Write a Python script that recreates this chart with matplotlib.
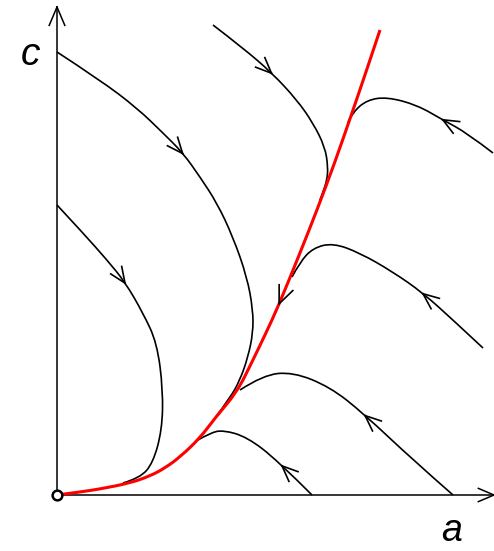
import numpy as np
import matplotlib
matplotlib.use("Agg")
import matplotlib.pyplot as plt
from matplotlib.path import Path
from matplotlib.patches import PathPatch

# Phase portrait in the (a, c) plane, units
red_a = [0, 23, 43, 73, 93, 108, 123, 143, 158, 180, 195, 208, 221, 243, 260, 278, 295, 309, 323]
red_c = [0, 3, 6, 12, 19, 27, 38, 57, 77, 103, 133, 160, 188, 242, 285, 333, 382, 423, 465]

curve1_a = [0, 43, 80, 106, 126, 143, 160, 176, 190, 196, 196, 191, 183, 173, 158]
curve1_c = [443, 415, 387, 362, 342, 318, 292, 258, 218, 185, 162, 138, 115, 97, 77]

curve2_a = [0, 26, 50, 68, 86, 100, 106, 105, 96, 83, 66]
curve2_c = [290, 262, 235, 213, 182, 152, 105, 65, 32, 17, 12]

curve3_a = [156, 186, 215, 240, 256, 268, 271, 270, 266, 263]
curve3_c = [470, 447, 422, 395, 372, 348, 328, 315, 303, 295]

curve4_a = [436, 410, 386, 360, 330, 310, 296, 291]
curve4_c = [342, 362, 375, 390, 398, 395, 383, 373]

curve5_a = [426, 396, 366, 336, 303, 276, 256, 243, 235]
curve5_c = [147, 175, 202, 223, 242, 252, 247, 233, 218]

curve6_a = [396, 356, 306, 273, 236, 206, 183]
curve6_c = [0, 35, 82, 108, 123, 120, 105]

curve7_a = [255, 220, 190, 166, 153, 141]
curve7_c = [0, 35, 58, 65, 62, 55]

# (curve, index of arrow tip)
black_curves = [
    (curve1_a, curve1_c, 4),
    (curve2_a, curve2_c, 3),
    (curve3_a, curve3_c, 2),
    (curve4_a, curve4_c, 2),
    (curve5_a, curve5_c, 2),
    (curve6_a, curve6_c, 2),
    (curve7_a, curve7_c, 1),
]


def smooth_path(xs, ys):
    # quadratic Bezier through segment midpoints, read points as controls
    p = np.column_stack([xs, ys]).astype(float)
    verts, codes = [p[0]], [Path.MOVETO]
    for i in range(1, len(p) - 1):
        end = p[-1] if i == len(p) - 2 else (p[i] + p[i + 1]) / 2
        verts += [p[i], end]
        codes += [Path.CURVE3, Path.CURVE3]
    if len(p) == 2:
        verts.append(p[1])
        codes.append(Path.LINETO)
    return Path(verts, codes)


def on_path(xs, ys, k):
    # point and direction of the smoothed curve near control point k
    p = np.column_stack([xs, ys]).astype(float)
    start = p[0] if k == 1 else (p[k - 1] + p[k]) / 2
    end = p[-1] if k == len(p) - 2 else (p[k] + p[k + 1]) / 2
    tip = 0.25 * start + 0.5 * p[k] + 0.25 * end
    return tip, end - start


def arrowhead(ax, tip, d, length=17, half_angle=23, **kw):
    tip = np.array(tip, float)
    d = np.array(d, float)
    d = d / np.hypot(*d)
    for s in (1, -1):
        t = np.radians(s * half_angle)
        r = np.array([[np.cos(t), -np.sin(t)], [np.sin(t), np.cos(t)]])
        w = tip - length * (r @ d)
        ax.plot([tip[0], w[0]], [tip[1], w[1]], **kw)


fig = plt.figure(figsize=(4.94, 5.51), dpi=100)
ax = fig.add_axes([0, 0, 1, 1])
ax.set_xlim(-57, 437)
ax.set_ylim(-56, 495)
ax.set_aspect("equal")
ax.axis("off")

# axes with open arrowheads
ax.plot([0, 0], [0, 488], color="black", lw=1.1)
ax.plot([0, 437], [0, 0], color="black", lw=1.1)
arrowhead(ax, (0, 488), (0, 1), length=20, color="black", lw=1.1)
arrowhead(ax, (437, 0), (1, 0), length=17, color="black", lw=1.1)

for xs, ys, k in black_curves:
    ax.add_patch(PathPatch(smooth_path(xs, ys), fill=False, edgecolor="black", lw=1.2))
    tip, d = on_path(xs, ys, k)
    arrowhead(ax, tip, d, color="black", lw=1.2)

ax.add_patch(PathPatch(smooth_path(red_a, red_c), fill=False, edgecolor="red",
                       lw=2.2, zorder=3))
tip, d = on_path(red_a, red_c, 12)
arrowhead(ax, tip, -d, length=19, color="black", lw=1.2, zorder=4)

ax.plot([0], [0], marker="o", ms=7, mfc="white", mec="black", mew=1.8, zorder=5)

ax.text(-27, 440, "c", fontsize=28, style="italic", family="Liberation Sans",
        ha="center", va="center")
ax.text(395, -36, "a", fontsize=27, style="italic", family="Liberation Sans",
        ha="center", va="center")

fig.savefig("out.png", dpi=100)
